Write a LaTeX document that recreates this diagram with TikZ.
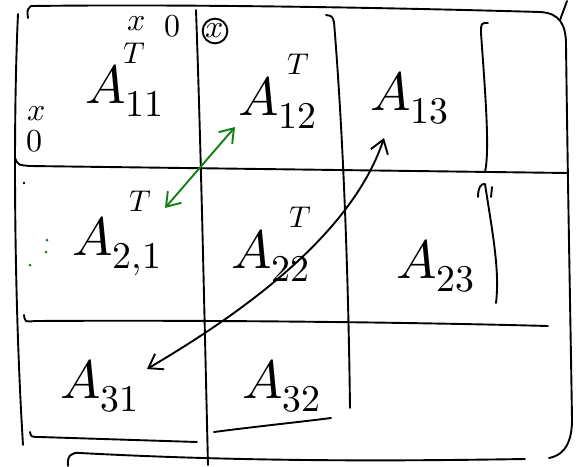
\documentclass[tikz,border=0pt]{standalone}
\usepackage{unicode-math}
\usetikzlibrary{arrows.meta}
\definecolor{penGreen}{RGB}{20,128,20}

\begin{document}
\begin{tikzpicture}[
  x=1pt,y=-1pt,
  >={Straight Barb[length=13pt,width=18pt]},
  pen/.style={line width=1.9pt,line cap=round,line join=round},
  greenpen/.style={pen,draw=penGreen},
  block/.style={inner sep=0pt,anchor=base west,font=\fontsize{54}{54}\selectfont},
  sup/.style={inner sep=0pt,font=\fontsize{30}{30}\selectfont},
  scribble/.style={inner sep=0pt,font=\fontsize{32}{32}\selectfont}
]
\useasboundingbox (0,0) rectangle (583,466);
% blocks
\node[block] (a11) at (85,103) {$A_{11}$};
\node[block] (a12) at (238,115) {$A_{12}$};
\node[block] (a13) at (370,110) {$A_{13}$};
\node[block] (a21) at (72,255) {$A_{2,1}$};
\node[block] (a22) at (231,268) {$A_{22}$};
\node[block] (a23) at (396,278) {$A_{23}$};
\node[block] (a31) at (60,398) {$A_{31}$};
\node[block] (a32) at (242,398) {$A_{32}$};
% transposes
\node[sup] (t11) at (134,53) {$T$};
\node[sup] (t12) at (298,64) {$T$};
\node[sup] (t21) at (140,201) {$T$};
\node[sup] (t22) at (300,217) {$T$};
% small marks
\node[scribble] (xtop) at (137,24) {$x$};
\node[scribble] (otop) at (172,26) {$0$};
\node[scribble] (xleft) at (37,114) {$x$};
\node[scribble] (oleft) at (35,141) {$0$};
\node[scribble,draw,circle,pen,inner sep=0.5pt] (xcirc) at (215,31) {$x$};
% frame
\draw[pen] (18,14) .. controls (13,120) and (14,300) .. (23,445);
\draw[pen] (28,18) .. controls (27,10) .. (31,6) .. controls (200,4) and (400,8) .. (540,12)
  .. controls (560,13) and (566,25) .. (566,45) .. controls (568,200) and (571,350) .. (572,420)
  .. controls (572,448) and (560,456) .. (549,458);
\draw[pen] (560,20) -- (567,1);
% rows
\draw[pen] (15,158) .. controls (18,165) .. (30,166) -- (568,173);
\draw[pen] (24,315) .. controls (25,322) .. (35,321) .. controls (200,320) and (400,322) .. (548,326);
% columns
\draw[pen] (196,10) .. controls (201,150) and (204,300) .. (208,465);
\draw[pen] (326,15) .. controls (332,16) .. (334,22) .. controls (342,120) and (348,250) .. (350,408);
\draw[pen] (488,23) .. controls (481,23) .. (481,33) .. controls (485,90) and (490,150) .. (485,172);
\draw[pen] (478,197) .. controls (478,188) and (481,183) .. (485,184) .. controls (492,230) and (500,270) .. (496,303);
\draw[pen] (492,187) -- (491,197);
% bottom strokes
\draw[pen] (30,432) .. controls (31,437) .. (40,437) -- (197,442);
\draw[pen] (214,432) .. controls (260,426) and (300,422) .. (331,418);
\draw[pen] (68,466) .. controls (67,456) and (71,452) .. (80,453) .. controls (250,462) and (400,461) .. (525,459);
% dots
\fill (24,183) circle (1.3pt);
\fill[penGreen] (47,240) circle (1.5pt) (46,252) circle (1.5pt) (30,265) circle (1.5pt);
% arrows
\coordinate (g12) at (235,127);
\coordinate (g21) at (165,208);
\draw[greenpen,<->] (g21) -- (g12);
\coordinate (b31) at (147,369);
\coordinate (b13) at (384,138);
\draw[pen,<->] (b31) .. controls (230,320) and (350,240) .. (b13);
\end{tikzpicture}
\end{document}
